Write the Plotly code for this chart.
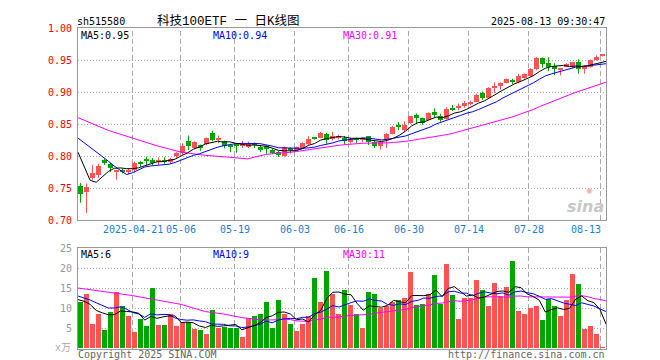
import plotly.graph_objects as go

# ---------------- data ----------------
tick_index = [9, 17, 26, 36, 45, 55, 65, 75, 87]
tick_labels = ["2025-04-21", "05-06", "05-19", "06-03", "06-16", "06-30", "07-14", "07-28", "08-13"]

opens = [0.753, 0.743, 0.765, 0.771, 0.794, 0.788, 0.776, 0.777, 0.776, 0.778,
         0.789, 0.795, 0.793, 0.792, 0.794, 0.791, 0.800, 0.804, 0.823, 0.8125,
         0.817, 0.818, 0.836, 0.826, 0.823, 0.8155, 0.817, 0.816, 0.8155, 0.819,
         0.814, 0.816, 0.810, 0.806, 0.8005, 0.8125, 0.809, 0.8125, 0.818, 0.8285,
         0.8285, 0.834, 0.8265, 0.828, 0.8285, 0.8214, 0.8265, 0.8255, 0.8308, 0.8215,
         0.815, 0.8245, 0.835, 0.8465, 0.840, 0.852, 0.864, 0.859, 0.857, 0.8695,
         0.863, 0.858, 0.8745, 0.876, 0.878, 0.881, 0.885, 0.8978, 0.891, 0.9065,
         0.909, 0.914, 0.9175, 0.915, 0.922, 0.925, 0.936, 0.953, 0.946, 0.940,
         0.9345, 0.9395, 0.939, 0.9472, 0.936, 0.939, 0.9505, 0.9565]
highs = [0.758, 0.757, 0.786, 0.788, 0.796, 0.789, 0.778, 0.780, 0.780, 0.791,
         0.792, 0.799, 0.797, 0.798, 0.798, 0.797, 0.806, 0.820, 0.832, 0.823,
         0.818, 0.829, 0.8395, 0.832, 0.824, 0.819, 0.820, 0.8234, 0.8225, 0.821,
         0.8167, 0.817, 0.8115, 0.808, 0.8145, 0.8136, 0.8145, 0.8215, 0.831, 0.829,
         0.8375, 0.836, 0.8378, 0.8335, 0.831, 0.8286, 0.829, 0.829, 0.831, 0.8235,
         0.8245, 0.836, 0.847, 0.853, 0.854, 0.8625, 0.8665, 0.860, 0.868, 0.8745,
         0.866, 0.876, 0.8797, 0.882, 0.8859, 0.8865, 0.897, 0.9005, 0.9075, 0.915,
         0.915, 0.921, 0.9208, 0.9285, 0.929, 0.937, 0.9545, 0.954, 0.9545, 0.945,
         0.9378, 0.945, 0.947, 0.951, 0.9415, 0.9505, 0.9573, 0.959]
lows = [0.727, 0.711, 0.763, 0.766, 0.786, 0.775, 0.763, 0.773, 0.772, 0.774,
        0.783, 0.786, 0.786, 0.786, 0.788, 0.788, 0.797, 0.802, 0.809, 0.811,
        0.808, 0.817, 0.823, 0.820, 0.812, 0.806, 0.805, 0.8125, 0.8125, 0.8125,
        0.806, 0.8035, 0.803, 0.7985, 0.799, 0.804, 0.8075, 0.811, 0.8167, 0.8255,
        0.828, 0.819, 0.8245, 0.826, 0.818, 0.8195, 0.820, 0.8215, 0.817, 0.8125,
        0.810, 0.8125, 0.834, 0.8405, 0.8386, 0.8505, 0.850, 0.8485, 0.856, 0.860,
        0.8536, 0.857, 0.8703, 0.8714, 0.8755, 0.879, 0.884, 0.888, 0.8905, 0.898,
        0.904, 0.9135, 0.9125, 0.9135, 0.921, 0.9245, 0.934, 0.938, 0.9325, 0.9265,
        0.926, 0.939, 0.9375, 0.9285, 0.9285, 0.938, 0.949, 0.9555]
closes = [0.740, 0.752, 0.773, 0.784, 0.789, 0.781, 0.777, 0.776, 0.778, 0.789,
          0.788, 0.793, 0.790, 0.794, 0.792, 0.795, 0.804, 0.816, 0.816, 0.822,
          0.8125, 0.828, 0.8255, 0.827, 0.816, 0.8145, 0.816, 0.8195, 0.8185, 0.8175,
          0.810, 0.811, 0.8047, 0.801, 0.8138, 0.809, 0.8136, 0.8203, 0.827, 0.828,
          0.836, 0.8255, 0.8308, 0.832, 0.8234, 0.8266, 0.8255, 0.8286, 0.8214, 0.816,
          0.8214, 0.835, 0.8455, 0.8455, 0.848, 0.862, 0.8595, 0.8516, 0.867, 0.864,
          0.857, 0.874, 0.873, 0.877, 0.8828, 0.885, 0.8955, 0.8909, 0.907, 0.9075,
          0.914, 0.9208, 0.9163, 0.9255, 0.928, 0.936, 0.953, 0.943, 0.939, 0.9355,
          0.9377, 0.944, 0.9465, 0.936, 0.9405, 0.950, 0.9547, 0.958]
# volume in 万 (10k) units
volumes = [11.4, 13.6, 5.9, 8.6, 4.45, 8.9, 13.9, 10.4, 8.0, 3.9,
           7.2, 5.4, 14.9, 5.7, 5.7, 8.4, 5.4, 6.5, 6.4, 4.7,
           4.45, 3.6, 9.4, 4.9, 5.3, 4.9, 4.9, 2.7, 7.5, 8.0,
           8.4, 11.4, 4.9, 11.9, 8.4, 5.9, 4.2, 5.9, 8.1, 17.4,
           11.4, 19.2, 13.6, 8.4, 14.6, 10.7, 8.4, 5.1, 13.9, 13.6,
           10.0, 10.6, 11.4, 12.1, 12.6, 19.0, 10.7, 11.0, 13.4, 18.2,
           10.9, 21.0, 13.2, 7.2, 12.6, 12.4, 16.95, 14.6, 10.45, 16.2,
           13.1, 15.2, 21.7, 9.2, 8.4, 9.9, 10.6, 6.9, 12.2, 10.6,
           7.9, 11.95, 18.45, 16.1, 4.7, 5.6, 3.4, 0.2]

# moving-average values at the start of the window (need data before the chart)
ma5_head_idx, ma5_head = [0, 1, 2, 3], [0.806, 0.784, 0.762, 0.759]
ma10_head_idx = [0, 1, 2, 3, 4, 5, 6, 7, 8]
ma10_head = [0.828, 0.821, 0.813, 0.806, 0.799, 0.792, 0.784, 0.777, 0.771]
ma30_head_idx = [0, 5, 9, 13, 17, 21, 25, 28]
ma30_head = [0.860, 0.840, 0.828, 0.816, 0.806, 0.801, 0.798, 0.7955]
vma5_head_idx, vma5_head = [0, 1, 2, 3], [12.1, 11.7, 10.9, 9.4]
vma10_head_idx = [0, 1, 2, 3, 4, 5, 6, 7, 8]
vma10_head = [13.0, 12.5, 12.0, 11.3, 10.6, 10.0, 10.0, 10.3, 9.7]
vma30_head_idx = [0, 5, 9, 13, 17, 21, 24, 27]
vma30_head = [15.0, 14.0, 13.1, 12.0, 10.9, 9.1, 8.5, 7.6]

# legend texts as printed on the reference
price_ma_labels = ["MA5:0.95", "MA10:0.94", "MA30:0.91"]
vol_ma_labels = ["MA5:6", "MA10:9", "MA30:11"]

# ---------------- helpers ----------------
N = len(closes)
RED, GREEN = "#ff5353", "#00a600"
MONO = "DejaVu Sans Mono, Liberation Mono, monospace"
CJK = "Liberation Mono, Noto Sans CJK SC, monospace"
X0 = -2.5 / 6.0          # axis start so that slots are 6px with body pixels 70-74
XR = [X0, X0 + N]


def ma_series(vals, n, head_idx, head_vals):
    xs, ys = list(head_idx), list(head_vals)
    for i in range(n - 1, len(vals)):
        xs.append(i)
        ys.append(sum(vals[i - n + 1:i + 1]) / n)
    return xs, ys


def line_x(idx):
    # the MA polylines are stretched edge-to-edge across the frame
    return [i * N / (N - 1) + X0 for i in idx]


def ax(px):
    return (px - 70) / 528.0


def ay(py):
    return (341 - py) / 321.0


colors = [RED if c >= o else GREEN for o, c in zip(opens, closes)]
idx = list(range(N))

fig = go.Figure()

# candle wicks
for col in (RED, GREEN):
    wx, wy = [], []
    for i in idx:
        if colors[i] == col:
            wx += [i, i, None]
            wy += [lows[i], highs[i], None]
    fig.add_trace(go.Scatter(x=wx, y=wy, mode="lines", line=dict(color=col, width=1),
                             xaxis="x", yaxis="y", hoverinfo="skip"))

# candle bodies
min_h = 0.3 / 192
fig.add_trace(go.Bar(x=idx, base=[min(o, c) for o, c in zip(opens, closes)],
                     y=[max(abs(c - o), min_h) for o, c in zip(opens, closes)],
                     width=5 / 6, marker=dict(color=colors, line=dict(width=0)),
                     xaxis="x", yaxis="y", hoverinfo="skip"))

# price MAs
for n, hi, hv, col in ((30, ma30_head_idx, ma30_head, "#ff00ff"),
                       (10, ma10_head_idx, ma10_head, "#0000ff"),
                       (5, ma5_head_idx, ma5_head, "#000000")):
    xs, ys = ma_series(closes, n, hi, hv)
    fig.add_trace(go.Scatter(x=line_x(xs), y=ys, mode="lines", line=dict(color=col, width=1),
                             xaxis="x", yaxis="y", hoverinfo="skip"))

# volume bars
fig.add_trace(go.Bar(x=idx, y=volumes, width=5 / 6, marker=dict(color=colors, line=dict(width=0)),
                     xaxis="x2", yaxis="y2", hoverinfo="skip"))
for n, hi, hv, col in ((30, vma30_head_idx, vma30_head, "#ff00ff"),
                       (10, vma10_head_idx, vma10_head, "#0000ff"),
                       (5, vma5_head_idx, vma5_head, "#000000")):
    xs, ys = ma_series(volumes, n, hi, hv)
    fig.add_trace(go.Scatter(x=line_x(xs), y=ys, mode="lines", line=dict(color=col, width=1),
                             xaxis="x2", yaxis="y2", hoverinfo="skip"))

# vertical dashed date grid lines (slot left edge)
shapes = []
for ti in tick_index:
    for xr, yr in (("x", "y domain"), ("x2", "y2 domain")):
        shapes.append(dict(type="line", xref=xr, yref=yr, x0=ti - 1 / 3, x1=ti - 1 / 3, y0=0, y1=1,
                           line=dict(color="#aaaaaa", width=1, dash="5px,3px"), layer="below"))

price_ticks = [0.70, 0.75, 0.80, 0.85, 0.90, 0.95, 1.00]
vol_ticks = [5, 10, 15, 20, 25]

axis_common = dict(showline=True, mirror=True, linecolor="#999999", linewidth=1, zeroline=False,
                   automargin=False)
fig.update_layout(
    width=660, height=360,
    margin=dict(l=70, r=62, t=20, b=19, autoexpand=False),
    paper_bgcolor="white", plot_bgcolor="white",
    showlegend=False, hovermode=False, bargap=0, barmode="overlay",
    xaxis=dict(domain=[0, 1], range=XR, showticklabels=False, showgrid=False, anchor="y", **axis_common),
    xaxis2=dict(domain=[0, 1], range=XR, showticklabels=False, showgrid=False, anchor="y2",
                matches="x", **axis_common),
    yaxis=dict(domain=[ay(212), 1], range=[0.70, 1.00], tickvals=price_ticks,
               ticktext=["%.2f" % v for v in price_ticks], ticks="", ticklabelstandoff=3,
               tickfont=dict(family=MONO, size=10, color="#ff0000"),
               showgrid=True, gridcolor="#aaaaaa", griddash="1px,2px", gridwidth=1, anchor="x",
               **axis_common),
    yaxis2=dict(domain=[0, ay(240)], range=[-0.25, 25], tickvals=vol_ticks,
                ticktext=[str(v) for v in vol_ticks], ticks="", ticklabelstandoff=3,
                tickfont=dict(family=MONO, size=10, color="#999999"),
                showgrid=True, gridcolor="#aaaaaa", griddash="1px,2px", gridwidth=1, anchor="x2",
                **axis_common),
    shapes=shapes,
)

ann = []
# date labels
for k, (ti, tl) in enumerate(zip(tick_index, tick_labels)):
    ann.append(dict(x=ti - 1 / 3, xref="x", y=ay(221.5), yref="paper", text=tl, showarrow=False,
                    xanchor="center", yanchor="middle", xshift=-15 if k == len(tick_index) - 1 else 0,
                    font=dict(family=MONO, size=10, color="#1a7fd0")))


def txt(px, py, s, color="#000000", size=10, family=MONO, anchor="left"):
    ann.append(dict(x=ax(px), y=ay(py), xref="paper", yref="paper", text=s, showarrow=False,
                    xanchor=anchor, yanchor="middle", borderpad=0,
                    font=dict(family=family, size=size, color=color)))


# header
txt(68, 13.5, "sh515580", size=10)
txt(148, 13, "科技100ETF 一 日K线图", size=12.5, family=CJK)
txt(598, 13.5, "2025-08-13 09:30:47", size=10, anchor="right")
# MA legends
ma_cols = ["#000000", "#0000ff", "#ff00ff"]
for px, lab, col in zip((72, 204, 334), price_ma_labels, ma_cols):
    txt(px, 27, lab, color=col)
for px, lab, col in zip((72, 204, 334), vol_ma_labels, ma_cols):
    txt(px, 246.5, lab, color=col)
# footer
txt(46, 340, "x万", color="#aaaaaa", size=10, family=CJK)
txt(69, 346.5, "Copyright 2025 SINA.COM", color="#666666")
txt(598, 346.5, "http://finance.sina.com.cn", color="#666666", anchor="right")
# watermark
ann.append(dict(x=ax(597), y=ay(199), xref="paper", yref="paper", text="<b><i>sina</i></b>", showarrow=False,
                xanchor="right", yanchor="middle", borderpad=0,
                font=dict(family="DejaVu Sans", size=16, color="#c8c8c8")))
ann.append(dict(x=ax(581), y=ay(183), xref="paper", yref="paper", text="◉", showarrow=False,
                xanchor="center", yanchor="middle", borderpad=0,
                font=dict(family="DejaVu Sans", size=8, color="#f4b0b0")))

fig.update_layout(annotations=ann)
fig.write_html("out.html")
